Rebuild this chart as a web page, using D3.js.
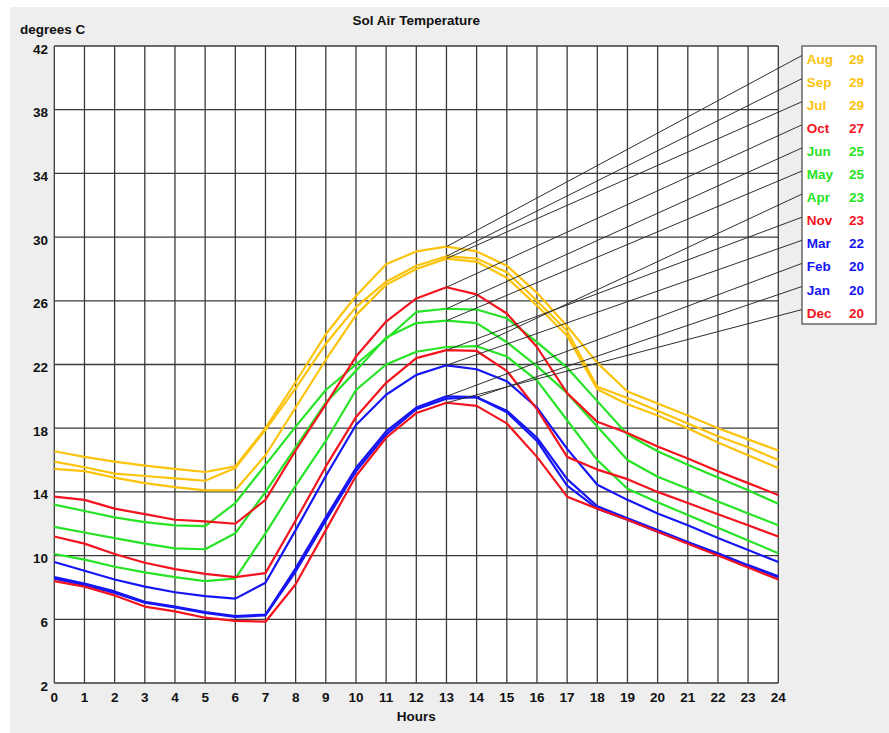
<!DOCTYPE html>
<html lang="en">
<head>
<meta charset="UTF-8">
<title>Sol Air Temperature</title>
<script src="https://d3js.org/d3.v7.min.js"></script>
<style>
  body { margin: 0; background: #fff; }
  svg text {
    font-family: "Liberation Sans", Arial, sans-serif;
    font-weight: bold;
    font-size: 13.5px;
  }
</style>
</head>
<body>
<div id="chart"></div>
<script>
// hours along the x axis
const hours = [0, 1, 2, 3, 4, 5, 6, 7, 8, 9, 10, 11, 12, 13, 14, 15, 16, 17, 18, 19, 20, 21, 22, 23, 24];
const yTicks = [2, 6, 10, 14, 18, 22, 26, 30, 34, 38, 42];

// sol-air temperature per month (degrees C)
const jan = [8.55, 8.15, 7.65, 7.05, 6.75, 6.4, 6.15, 6.25, 9.0, 12.2, 15.3, 17.6, 19.2, 19.85, 19.95, 19.0, 17.2, 14.4, 12.95, 12.25, 11.5, 10.8, 10.1, 9.35, 8.65];
const feb = [8.65, 8.25, 7.75, 7.1, 6.8, 6.45, 6.2, 6.3, 9.2, 12.4, 15.5, 17.8, 19.3, 20.0, 19.95, 19.1, 17.4, 14.8, 13.1, 12.35, 11.6, 10.85, 10.15, 9.4, 8.7];
const mar = [9.6, 9.05, 8.5, 8.05, 7.7, 7.45, 7.3, 8.3, 11.6, 15.0, 18.2, 20.1, 21.35, 21.95, 21.7, 20.95, 19.3, 16.7, 14.45, 13.5, 12.65, 11.9, 11.1, 10.35, 9.6];
const apr = [10.1, 9.75, 9.3, 8.95, 8.65, 8.4, 8.55, 11.4, 14.4, 17.2, 20.4, 22.0, 22.8, 23.1, 23.15, 22.5, 21.0, 18.5, 16.0, 14.2, 13.35, 12.55, 11.75, 10.95, 10.15];
const may = [11.8, 11.45, 11.1, 10.75, 10.45, 10.4, 11.4, 14.0, 16.8, 19.6, 21.6, 23.7, 24.6, 24.75, 24.6, 23.4, 21.9, 20.2, 18.1, 16.0, 14.95, 14.2, 13.4, 12.65, 11.9];
const jun = [13.2, 12.8, 12.4, 12.1, 11.9, 11.85, 13.3, 15.7, 18.1, 20.4, 22.0, 23.6, 25.3, 25.5, 25.45, 24.9, 23.4, 21.8, 19.7, 17.6, 16.55, 15.7, 14.9, 14.1, 13.25];
const jul = [15.45, 15.3, 14.9, 14.55, 14.3, 14.1, 14.1, 16.3, 19.3, 22.3, 25.1, 27.0, 28.0, 28.65, 28.45, 27.45, 25.7, 23.8, 20.45, 19.5, 18.8, 18.0, 17.1, 16.3, 15.5];
const aug = [16.55, 16.2, 15.9, 15.65, 15.45, 15.25, 15.6, 18.0, 20.9, 23.9, 26.3, 28.3, 29.1, 29.4, 29.1, 28.2, 26.5, 24.4, 22.1, 20.3, 19.55, 18.8, 18.0, 17.3, 16.6];
const sep = [15.9, 15.55, 15.15, 15.0, 14.85, 14.7, 15.5, 17.9, 20.5, 23.3, 25.6, 27.2, 28.2, 28.8, 28.65, 27.8, 26.0, 24.1, 20.6, 19.9, 19.1, 18.3, 17.5, 16.8, 16.0];
const oct = [13.7, 13.5, 12.95, 12.6, 12.25, 12.15, 12.0, 13.5, 16.6, 19.5, 22.5, 24.7, 26.15, 26.85, 26.4, 25.2, 23.1, 20.2, 18.4, 17.7, 16.85, 16.1, 15.3, 14.55, 13.8];
const nov = [11.2, 10.75, 10.1, 9.55, 9.15, 8.85, 8.65, 8.9, 12.2, 15.6, 18.7, 20.85, 22.4, 22.9, 22.85, 21.6, 19.2, 16.2, 15.4, 14.8, 14.0, 13.3, 12.6, 11.9, 11.2];
const dec = [8.4, 8.05, 7.5, 6.8, 6.5, 6.1, 5.9, 5.85, 8.2, 11.6, 15.0, 17.4, 18.95, 19.6, 19.4, 18.3, 16.2, 13.7, 12.95, 12.25, 11.5, 10.75, 10.0, 9.25, 8.5];

// legend order (by peak) and the peak labels shown in it
const legendMonths = ["Aug", "Sep", "Jul", "Oct", "Jun", "May", "Apr", "Nov", "Mar", "Feb", "Jan", "Dec"];
const legendPeaks = [29, 29, 29, 27, 25, 25, 23, 23, 22, 20, 20, 20];

const seriesByMonth = {
    Jan: jan, Feb: feb, Mar: mar, Apr: apr, May: may, Jun: jun,
    Jul: jul, Aug: aug, Sep: sep, Oct: oct, Nov: nov, Dec: dec
};
const drawOrder = ["Jan", "Feb", "Mar", "Apr", "May", "Jun", "Jul", "Aug", "Sep", "Oct", "Nov", "Dec"];

// seasonal colours
const YELLOW = "#fcc30c", RED = "#f2141e", GREEN = "#26e326", BLUE = "#1616f5";
const colorOf = {
    Jan: BLUE, Feb: BLUE, Mar: BLUE,
    Apr: GREEN, May: GREEN, Jun: GREEN,
    Jul: YELLOW, Aug: YELLOW, Sep: YELLOW,
    Oct: RED, Nov: RED, Dec: RED
};

const W = 889, H = 733;
const plot = {left: 54.3, right: 778.3, top: 46, bottom: 683};

const svg = d3.select("#chart").append("svg")
    .attr("width", W)
    .attr("height", H);

// grey panel
svg.append("rect")
    .attr("x", 10).attr("y", 7)
    .attr("width", W - 10).attr("height", H - 7)
    .attr("fill", "#eeeeee");

const xScale = d3.scaleLinear().domain([0, 24]).range([plot.left, plot.right]);
const yScale = d3.scaleLinear().domain([2, 42]).range([plot.bottom, plot.top]);

// plot area
svg.append("rect")
    .attr("x", plot.left).attr("y", plot.top)
    .attr("width", plot.right - plot.left)
    .attr("height", plot.bottom - plot.top)
    .attr("fill", "#ffffff");

// grid
const grid = svg.append("g").attr("stroke", "#3a3a3a").attr("stroke-width", 1.3);
grid.selectAll("line.v")
    .data(hours)
    .join("line")
    .attr("class", "v")
    .attr("x1", d => xScale(d)).attr("x2", d => xScale(d))
    .attr("y1", plot.top).attr("y2", plot.bottom);
grid.selectAll("line.h")
    .data(yTicks)
    .join("line")
    .attr("class", "h")
    .attr("x1", plot.left).attr("x2", plot.right)
    .attr("y1", d => yScale(d)).attr("y2", d => yScale(d));

// tick labels
svg.append("g").selectAll("text")
    .data(yTicks)
    .join("text")
    .attr("x", 48)
    .attr("y", d => yScale(d) + 7.5)
    .attr("text-anchor", "end")
    .attr("fill", "#111")
    .text(d => d);

svg.append("g").selectAll("text")
    .data(hours)
    .join("text")
    .attr("x", d => xScale(d))
    .attr("y", 702)
    .attr("text-anchor", "middle")
    .attr("fill", "#111")
    .text(d => d);

// titles
svg.append("text")
    .attr("x", (plot.left + plot.right) / 2)
    .attr("y", 25)
    .attr("text-anchor", "middle")
    .attr("fill", "#111")
    .text("Sol Air Temperature");

svg.append("text")
    .attr("x", 20)
    .attr("y", 34)
    .attr("fill", "#111")
    .text("degrees C");

svg.append("text")
    .attr("x", (plot.left + plot.right) / 2)
    .attr("y", 721)
    .attr("text-anchor", "middle")
    .attr("fill", "#111")
    .text("Hours");

// month curves
const line = d3.line()
    .x((d, i) => xScale(hours[i]))
    .y(d => yScale(d));

svg.append("g").selectAll("path")
    .data(drawOrder)
    .join("path")
    .attr("d", m => line(seriesByMonth[m]))
    .attr("fill", "none")
    .attr("stroke", m => colorOf[m])
    .attr("stroke-width", 2.2)
    .attr("stroke-linejoin", "round");

// legend box
const legend = {left: 802, right: 876, top: 46, bottom: 324, rowStep: 23.1};

svg.append("rect")
    .attr("x", legend.left).attr("y", legend.top)
    .attr("width", legend.right - legend.left)
    .attr("height", legend.bottom - legend.top)
    .attr("fill", "#ffffff")
    .attr("stroke", "#444")
    .attr("stroke-width", 1.2);

// leader lines from each curve's peak to its legend row
svg.append("g").selectAll("line")
    .data(legendMonths)
    .join("line")
    .attr("x1", m => {
        const vals = seriesByMonth[m];
        return xScale(hours[d3.maxIndex(vals)]);
    })
    .attr("y1", m => yScale(d3.max(seriesByMonth[m])))
    .attr("x2", legend.left)
    .attr("y2", (m, i) => 55.5 + i * legend.rowStep)
    .attr("stroke", "#2e2e2e")
    .attr("stroke-width", 1);

const rows = svg.append("g").selectAll("g")
    .data(legendMonths)
    .join("g")
    .attr("transform", (m, i) => `translate(0,${63.5 + i * legend.rowStep})`);

rows.append("text")
    .attr("x", 806.7)
    .attr("fill", m => colorOf[m])
    .text(m => m);

rows.append("text")
    .attr("x", 849)
    .attr("fill", m => colorOf[m])
    .text((m, i) => legendPeaks[i]);
</script>
</body>
</html>
